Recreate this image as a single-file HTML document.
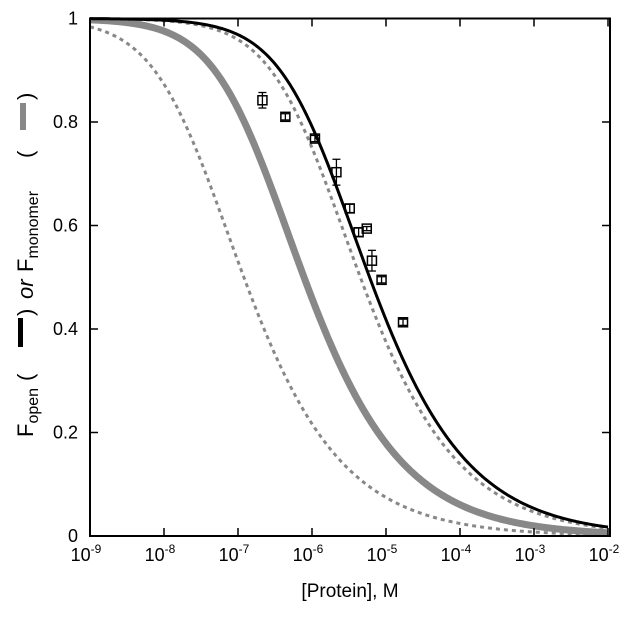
<!DOCTYPE html>
<html><head><meta charset="utf-8"><style>
html,body{margin:0;padding:0;background:#fff;}
svg{display:block;font-family:"Liberation Sans",Arial,sans-serif;}
</style></head><body>
<svg id="chart" width="635" height="618" viewBox="0 0 635 618" xmlns="http://www.w3.org/2000/svg">
<defs><clipPath id="clip"><rect x="90" y="17" width="521" height="520"/></clipPath></defs>
<g id="curves" clip-path="url(#clip)"></g>
<g id="points"></g>
<rect x="90" y="18.5" width="520" height="517.5" fill="none" stroke="#000" stroke-width="2"/>
<g id="axes"></g>
<text x="350" y="597" font-size="19" text-anchor="middle">[Protein], M</text>
<g transform="translate(33,437) rotate(-90)" font-size="22">
<text x="0" y="0">F<tspan font-size="16" dy="5">open</tspan></text>
<text x="56" y="0">(</text>
<rect x="90" y="-15" width="29" height="5" fill="#000"/>
<text x="121" y="0">)</text>
<text x="138" y="0" font-style="italic">or</text>
<text x="165" y="0">F<tspan font-size="16" dy="5">monomer</tspan></text>
<text x="279" y="0">(</text>
<rect x="307" y="-13" width="27" height="6" fill="#888"/>
<text x="337" y="0">)</text>
</g>
</svg>
<script>
const xTickExps=[-9,-8,-7,-6,-5,-4,-3,-2];
const yTicks=[0,0.2,0.4,0.6,0.8,1];
const yTickLabels=["0","0.2","0.4","0.6","0.8","1"];
// dimer dissociation constants (M) for each model curve
const curveNames=["open-fit","monomer-fit","monomer-bound-low","monomer-bound-high"];
const curveKd=[6.0e-6,7.8e-7,1.2e-7,4.5e-6];
const pointLogX=[-6.67,-6.36,-5.96,-5.67,-5.49,-5.37,-5.26,-5.19,-5.06,-4.77];
const pointY=[0.842,0.810,0.768,0.703,0.633,0.587,0.594,0.532,0.495,0.413];
const pointErr=[0.015,0.006,0.006,0.025,0.008,0.008,0.004,0.02,0.006,0.006];

const NS="http://www.w3.org/2000/svg";
const X0=90,DEC=74,Y1=18.5,Y0=536;
const xs=l=>X0+(l+9)*DEC;
const ys=v=>Y0-v*(Y0-Y1);
function mk(tag,attrs,parent){const e=document.createElementNS(NS,tag);for(const k in attrs)e.setAttribute(k,attrs[k]);parent.appendChild(e);return e;}
const axes=document.getElementById('axes');
xTickExps.forEach(e=>{
  const x=xs(e);
  const t1=mk('line',{x1:x,x2:x,y1:Y0,y2:Y0-8,stroke:'#000','stroke-width':1.5},axes);
  
  
  const t2=mk('line',{x1:x,x2:x,y1:Y1,y2:Y1+8,stroke:'#000','stroke-width':1.5},axes);
  
  
  const tx=mk('text',{x:x-4,y:561,'font-size':18,'text-anchor':'middle'},axes);
  
  
  tx.textContent='10';
  const sp=mk('tspan',{'font-size':12,dy:-8},tx);sp.textContent=String(e);
});
yTicks.forEach((v,i)=>{
  const y=ys(v);
  const t1=mk('line',{x1:X0,x2:X0+8,y1:y,y2:y,stroke:'#000','stroke-width':1.5},axes);
  
  
  const t2=mk('line',{x1:610,x2:602,y1:y,y2:y,stroke:'#000','stroke-width':1.5},axes);
  
  
  const tx=mk('text',{x:78,y:y+6,'font-size':18,'text-anchor':'end'},axes);
  
  
  tx.textContent=yTickLabels[i];
});
const styles=[{s:'#000',w:3,d:''},{s:'#888',w:7,d:''},{s:'#888',w:3,d:'4 4'},{s:'#888',w:3,d:'4 4'}];
const cg=document.getElementById('curves');
const order=[2,3,1,0];
order.forEach(i=>{
  const Kd=curveKd[i];let d='';
  for(let l=-9;l<=-2.0001+0.02;l+=0.02){
    const P=Math.pow(10,l);
    const F=(Math.sqrt(Kd*Kd+8*Kd*P)-Kd)/(4*P);
    d+=(d?'L':'M')+xs(l).toFixed(2)+','+ys(F).toFixed(2);
  }
  const st=styles[i];
  const p=mk('path',{d:d,fill:'none',stroke:st.s,'stroke-width':st.w},cg);
  if(st.d)p.setAttribute('stroke-dasharray',st.d);
  
  
});
const pg=document.getElementById('points');
pointLogX.forEach((l,i)=>{
  const x=xs(l),y=ys(pointY[i]),e=pointErr[i]*(Y0-Y1);
  const g=mk('g',{},pg);
  
  
  mk('line',{x1:x,x2:x,y1:y-e,y2:y+e,stroke:'#000','stroke-width':1.3},g);
  mk('line',{x1:x-4,x2:x+4,y1:y-e,y2:y-e,stroke:'#000','stroke-width':1.3},g);
  mk('line',{x1:x-4,x2:x+4,y1:y+e,y2:y+e,stroke:'#000','stroke-width':1.3},g);
  mk('rect',{x:x-4.5,y:y-4.5,width:9,height:9,fill:'none',stroke:'#000','stroke-width':1.5},g);
});
</script>
</body></html>
